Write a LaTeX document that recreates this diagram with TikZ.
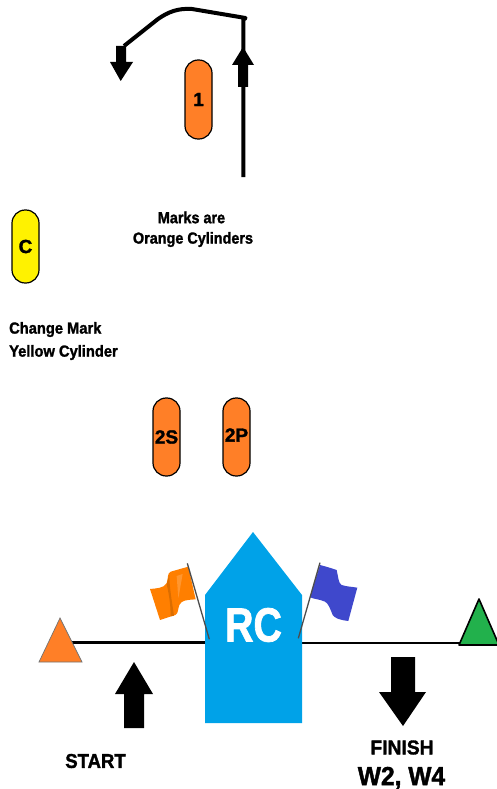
\documentclass[tikz,border=0pt]{standalone}
\usepackage{fontspec}
\setmainfont{Liberation Sans}[BoldFeatures={FakeBold=1.6}]
\definecolor{markorange}{HTML}{FF7F27}
\definecolor{markyellow}{HTML}{FFF200}
\definecolor{boatblue}{HTML}{00A2E8}
\definecolor{flagblue}{HTML}{3F48CC}
\definecolor{flagorange}{HTML}{FF7F00}
\definecolor{markgreen}{HTML}{22B14C}
\tikzset{
  markbox/.style={draw=black,line width=1.2pt,rounded corners=13.2pt,minimum width=27pt,inner sep=0pt,font=\bfseries\fontsize{19}{19}\selectfont},
  label/.style={font=\bfseries\fontsize{16}{16}\selectfont,inner sep=0pt,xscale=.9,transform shape},
  courseline/.style={line width=2.8pt,black},
  pole/.style={line width=1.3pt,black!70},
}
\begin{document}
\begin{tikzpicture}[x=1pt,y=-1pt]
\useasboundingbox (0,0) rectangle (497,789);
% upwind course
\coordinate (upstart) at (243.3,177);
\coordinate (upbend) at (245.5,18);
\coordinate (downend) at (124,46);
\draw[line width=4pt,line join=round] (upstart) -- (243.3,20) -- (upbend)
  -- (192,9) .. controls (178,8) and (168,12) .. (158,19) -- (downend);
\fill (238,87) -- (238,65) -- (232,65) -- (243,47) -- (254,65) -- (248,65) -- (248,87) -- cycle;
\fill (116,46) -- (126,46) -- (126,62) -- (133,62) -- (120.7,81) -- (110,62) -- (116,62) -- cycle;
% marks
\node[markbox,fill=markorange,minimum height=79pt] (m1) at (198.5,99.5) {1};
\node[markbox,fill=markyellow,minimum height=73pt] (mc) at (25.5,246.5) {C};
\node[markbox,fill=markorange,minimum height=78pt] (m2s) at (166.5,437) {2S};
\node[markbox,fill=markorange,minimum height=78pt] (m2p) at (236.5,437) {\raisebox{4pt}{2P}};
% captions
\node[label] (t1) at (191.5,217.5) {Marks are};
\node[label] (t2) at (193,239.5) {Orange Cylinders};
\node[label,anchor=west,xscale=1.02] (t3) at (9,329.5) {Change Mark};
\node[label,anchor=west,xscale=1.02] (t4) at (9,352.5) {Yellow Cylinder};
% start / finish line
\coordinate (linel) at (72,642.7);
\coordinate (rcl) at (206,642.7);
\coordinate (rcr) at (301,643);
\coordinate (liner) at (461,643);
\draw[courseline] (linel) -- (rcl);
\draw[courseline] (rcr) -- (liner);
% pin marks
\draw[fill=markorange,draw=black!55,line width=.7pt] (60,618) -- (82,662) -- (39,662) -- cycle;
\draw[fill=markgreen,draw=black,line width=1.6pt,line join=round] (479,599) -- (499,645) -- (459,645) -- cycle;
% committee boat
\path[fill=boatblue] (205,595) -- (253,532) -- (302,595) -- (302,723) -- (205,723) -- cycle;
\coordinate (boatc) at (253.5,625);
\node[text=white,font=\bfseries\fontsize{48}{48}\selectfont,inner sep=0pt,xscale=.82,transform shape] (rc) at (boatc) {RC};
% flags
\begin{scope}[shift={(130,520)},x=.3333pt,y=-.3333pt]
  \fill[flagorange] (60,207) .. controls (80,205) and (100,205) .. (110,190)
    .. controls (115,172) and (112,160) .. (122,155) -- (175,140) -- (197,238)
    .. controls (170,240) and (155,240) .. (148,255) .. controls (143,270) and (145,280) .. (136,285)
    -- (90,300) -- cycle;
  \fill[black!14!flagorange] (118,165) .. controls (118,200) and (125,240) .. (132,287) -- (122,289) .. controls (122,250) and (116,220) .. (110,192) -- cycle;
  \fill[white!18!flagorange] (140,168) -- (158,162) -- (145,235) -- cycle;
  \draw[pole] (172,130) -- (238,358);
  \fill[flagblue] (570,135) .. controls (590,140) and (605,145) .. (620,150)
    .. controls (625,170) and (625,190) .. (635,195) .. controls (650,200) and (665,200) .. (682,203)
    -- (655,303) .. controls (630,300) and (615,295) .. (608,285)
    .. controls (600,265) and (595,250) .. (585,245) .. controls (570,238) and (555,238) .. (540,232) -- cycle;
  \draw[pole] (570,128) -- (505,355);
\end{scope}
% arrows
\fill (124,728) -- (124,694) -- (115,694) -- (134,662) -- (153,694) -- (144,694) -- (144,728) -- cycle;
\fill (391,657) -- (415,657) -- (415,692) -- (426,692) -- (403,726) -- (379,692) -- (391,692) -- cycle;
\node[label,font=\bfseries\fontsize{20}{20}\selectfont,xscale=1.03] (start) at (95.5,761) {START};
\node[label,font=\bfseries\fontsize{20}{20}\selectfont,xscale=1.07] (finish) at (402,747.5) {FINISH};
\node[label,font=\bfseries\fontsize{26}{26}\selectfont,xscale=1.05] (w) at (401.5,778) {W2, W4};
\end{tikzpicture}
\end{document}
